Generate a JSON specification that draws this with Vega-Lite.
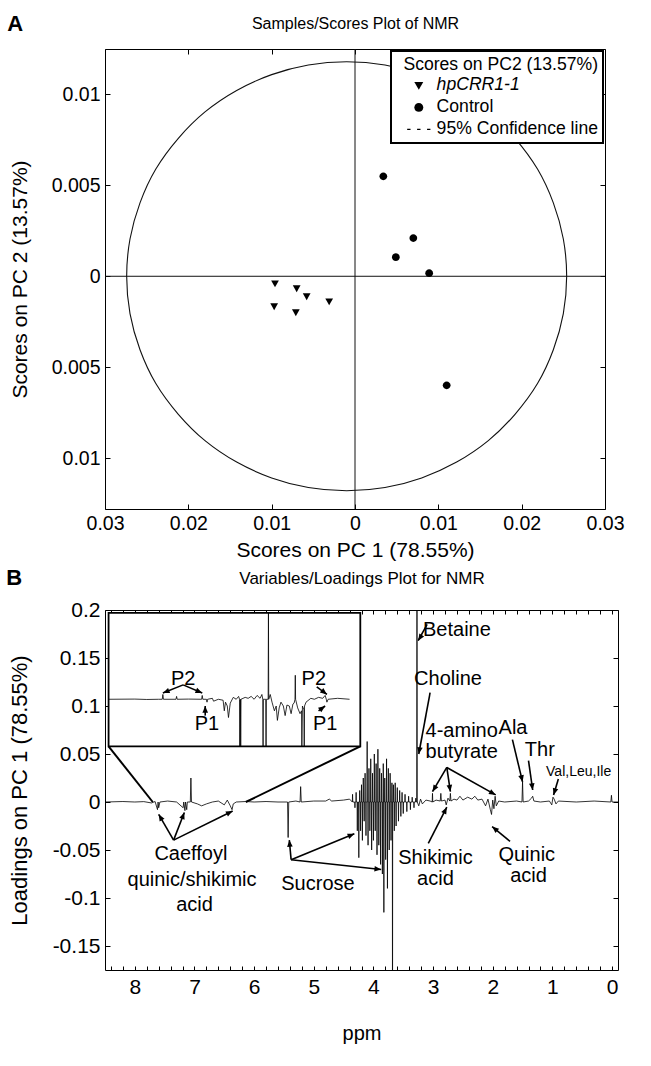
{
  "$schema": "https://vega.github.io/schema/vega-lite/v6.json",
  "background": "white",
  "padding": {"left": 5, "top": 12, "right": 0, "bottom": 0},
  "bounds": "flush",
  "spacing": 101,
  "resolve": {"legend": {"shape": "independent"}},
  "config": {
    "font": "Liberation Sans",
    "view": {"stroke": "black", "strokeWidth": 1},
    "axis": {
      "domain": false, "grid": false, "tickColor": "black", "tickSize": -5, "tickWidth": 1,
      "labelPadding": 10, "labelColor": "black", "labelFont": "Liberation Sans", "labelFontSize": 19.5,
      "labelFlush": false, "labelOverlap": false, "labelBound": false,
      "titleFont": "Liberation Sans", "titleFontSize": 21, "titleFontWeight": "normal", "titleColor": "black"
    },
    "legend": {"strokeWidth": 2},
    "text": {"font": "Liberation Sans", "color": "black"}
  },
  "datasets": {
    "zero": [{"v": 0}],
    "ellipse": [
      {"i": 0, "x": 0.0254, "y": 0}, {"i": 1, "x": 0.025, "y": 0.00205}, {"i": 2, "x": 0.0238, "y": 0.00404},
      {"i": 3, "x": 0.0219, "y": 0.0059}, {"i": 4, "x": 0.0192, "y": 0.00759}, {"i": 5, "x": 0.016, "y": 0.00904},
      {"i": 6, "x": 0.0122, "y": 0.01022}, {"i": 7, "x": 0.008, "y": 0.01109}, {"i": 8, "x": 0.0036, "y": 0.01162},
      {"i": 9, "x": -0.001, "y": 0.0118}, {"i": 10, "x": -0.0056, "y": 0.01162}, {"i": 11, "x": -0.01, "y": 0.01109},
      {"i": 12, "x": -0.0142, "y": 0.01022}, {"i": 13, "x": -0.018, "y": 0.00904}, {"i": 14, "x": -0.0212, "y": 0.00759},
      {"i": 15, "x": -0.0239, "y": 0.0059}, {"i": 16, "x": -0.0258, "y": 0.00404}, {"i": 17, "x": -0.027, "y": 0.00205},
      {"i": 18, "x": -0.0274, "y": 0}, {"i": 19, "x": -0.027, "y": -0.00205}, {"i": 20, "x": -0.0258, "y": -0.00404},
      {"i": 21, "x": -0.0239, "y": -0.0059}, {"i": 22, "x": -0.0212, "y": -0.00759}, {"i": 23, "x": -0.018, "y": -0.00904},
      {"i": 24, "x": -0.0142, "y": -0.01022}, {"i": 25, "x": -0.01, "y": -0.01109}, {"i": 26, "x": -0.0056, "y": -0.01162},
      {"i": 27, "x": -0.001, "y": -0.0118}, {"i": 28, "x": 0.0036, "y": -0.01162}, {"i": 29, "x": 0.008, "y": -0.01109},
      {"i": 30, "x": 0.0122, "y": -0.01022}, {"i": 31, "x": 0.016, "y": -0.00904}, {"i": 32, "x": 0.0192, "y": -0.00759},
      {"i": 33, "x": 0.0219, "y": -0.0059}, {"i": 34, "x": 0.0238, "y": -0.00404}, {"i": 35, "x": 0.025, "y": -0.00205}
    ],
    "scores": [
      {"x": 0.0034, "y": 0.0055, "group": "Control"},
      {"x": 0.007, "y": 0.0021, "group": "Control"},
      {"x": 0.0049, "y": 0.00105, "group": "Control"},
      {"x": 0.0089, "y": 0.00017, "group": "Control"},
      {"x": 0.011, "y": -0.006, "group": "Control"},
      {"x": -0.0096, "y": -0.00039, "group": "hpCRR1-1"},
      {"x": -0.007, "y": -0.00066, "group": "hpCRR1-1"},
      {"x": -0.0058, "y": -0.0011, "group": "hpCRR1-1"},
      {"x": -0.0031, "y": -0.00138, "group": "hpCRR1-1"},
      {"x": -0.0097, "y": -0.00165, "group": "hpCRR1-1"},
      {"x": -0.0071, "y": -0.00198, "group": "hpCRR1-1"}
    ],
    "spectrum": [
      {"ppm": 8.5, "v": 0}, {"ppm": 8.2, "v": 0.0005}, {"ppm": 8.0, "v": 0}, {"ppm": 7.85, "v": 0.0004},
      {"ppm": 7.72, "v": -0.001}, {"ppm": 7.66, "v": 0.0005}, {"ppm": 7.62, "v": -0.008}, {"ppm": 7.61, "v": 0},
      {"ppm": 7.6, "v": -0.006}, {"ppm": 7.58, "v": 0}, {"ppm": 7.45, "v": 0.001}, {"ppm": 7.3, "v": 0},
      {"ppm": 7.19, "v": -0.006}, {"ppm": 7.18, "v": 0}, {"ppm": 7.16, "v": -0.009}, {"ppm": 7.15, "v": 0},
      {"ppm": 7.13, "v": -0.008}, {"ppm": 7.12, "v": 0}, {"ppm": 7.07, "v": 0}, {"ppm": 7.06, "v": 0.025},
      {"ppm": 7.05, "v": 0}, {"ppm": 6.95, "v": -0.002}, {"ppm": 6.88, "v": -0.004}, {"ppm": 6.8, "v": -0.002},
      {"ppm": 6.7, "v": 0}, {"ppm": 6.6, "v": 0.001}, {"ppm": 6.5, "v": -0.003}, {"ppm": 6.45, "v": 0.002},
      {"ppm": 6.4, "v": -0.004}, {"ppm": 6.37, "v": -0.008}, {"ppm": 6.35, "v": -0.002}, {"ppm": 6.3, "v": 0},
      {"ppm": 6.14, "v": 0.0005}, {"ppm": 6.0, "v": 0}, {"ppm": 5.8, "v": 0.0005}, {"ppm": 5.6, "v": 0},
      {"ppm": 5.44, "v": 0}, {"ppm": 5.43, "v": -0.037}, {"ppm": 5.42, "v": 0}, {"ppm": 5.3, "v": 0.001},
      {"ppm": 5.23, "v": 0}, {"ppm": 5.22, "v": 0.016}, {"ppm": 5.21, "v": 0}, {"ppm": 5.0, "v": 0.001},
      {"ppm": 4.8, "v": 0.001}, {"ppm": 4.74, "v": 0.003}, {"ppm": 4.7, "v": 0.001}, {"ppm": 4.5, "v": 0.002},
      {"ppm": 4.4, "v": 0.003},
      {"ppm": 4.354, "v": 0}, {"ppm": 4.35, "v": 0.008}, {"ppm": 4.346, "v": 0},
      {"ppm": 4.314, "v": 0}, {"ppm": 4.31, "v": -0.006}, {"ppm": 4.306, "v": 0},
      {"ppm": 4.294, "v": 0}, {"ppm": 4.29, "v": 0.01}, {"ppm": 4.286, "v": 0},
      {"ppm": 4.274, "v": 0}, {"ppm": 4.27, "v": -0.03}, {"ppm": 4.266, "v": 0},
      {"ppm": 4.249, "v": 0}, {"ppm": 4.245, "v": -0.058}, {"ppm": 4.241, "v": 0},
      {"ppm": 4.234, "v": 0}, {"ppm": 4.23, "v": 0.012}, {"ppm": 4.226, "v": 0},
      {"ppm": 4.219, "v": 0}, {"ppm": 4.215, "v": -0.03}, {"ppm": 4.211, "v": 0},
      {"ppm": 4.204, "v": 0}, {"ppm": 4.2, "v": 0.018}, {"ppm": 4.196, "v": 0},
      {"ppm": 4.189, "v": 0}, {"ppm": 4.185, "v": -0.04}, {"ppm": 4.181, "v": 0},
      {"ppm": 4.174, "v": 0}, {"ppm": 4.17, "v": 0.025}, {"ppm": 4.166, "v": 0},
      {"ppm": 4.159, "v": 0}, {"ppm": 4.155, "v": -0.02}, {"ppm": 4.151, "v": 0},
      {"ppm": 4.144, "v": 0}, {"ppm": 4.14, "v": 0.03}, {"ppm": 4.136, "v": 0},
      {"ppm": 4.129, "v": 0}, {"ppm": 4.125, "v": -0.035}, {"ppm": 4.121, "v": 0},
      {"ppm": 4.109, "v": 0}, {"ppm": 4.105, "v": 0.063}, {"ppm": 4.101, "v": 0},
      {"ppm": 4.094, "v": 0}, {"ppm": 4.09, "v": -0.045}, {"ppm": 4.086, "v": 0},
      {"ppm": 4.079, "v": 0}, {"ppm": 4.075, "v": 0.035}, {"ppm": 4.071, "v": 0},
      {"ppm": 4.064, "v": 0}, {"ppm": 4.06, "v": -0.03}, {"ppm": 4.056, "v": 0},
      {"ppm": 4.049, "v": 0}, {"ppm": 4.045, "v": 0.045}, {"ppm": 4.041, "v": 0},
      {"ppm": 4.034, "v": 0}, {"ppm": 4.03, "v": -0.05}, {"ppm": 4.026, "v": 0},
      {"ppm": 4.019, "v": 0}, {"ppm": 4.015, "v": 0.03}, {"ppm": 4.011, "v": 0},
      {"ppm": 4.004, "v": 0}, {"ppm": 4.0, "v": -0.04}, {"ppm": 3.996, "v": 0},
      {"ppm": 3.989, "v": 0}, {"ppm": 3.985, "v": 0.05}, {"ppm": 3.981, "v": 0},
      {"ppm": 3.974, "v": 0}, {"ppm": 3.97, "v": -0.03}, {"ppm": 3.966, "v": 0},
      {"ppm": 3.959, "v": 0}, {"ppm": 3.955, "v": 0.04}, {"ppm": 3.951, "v": 0},
      {"ppm": 3.944, "v": 0}, {"ppm": 3.94, "v": -0.055}, {"ppm": 3.936, "v": 0},
      {"ppm": 3.929, "v": 0}, {"ppm": 3.925, "v": 0.055}, {"ppm": 3.921, "v": 0},
      {"ppm": 3.914, "v": 0}, {"ppm": 3.91, "v": -0.045}, {"ppm": 3.906, "v": 0},
      {"ppm": 3.899, "v": 0}, {"ppm": 3.895, "v": 0.035}, {"ppm": 3.891, "v": 0},
      {"ppm": 3.884, "v": 0}, {"ppm": 3.88, "v": -0.065}, {"ppm": 3.876, "v": 0},
      {"ppm": 3.869, "v": 0}, {"ppm": 3.865, "v": 0.03}, {"ppm": 3.861, "v": 0},
      {"ppm": 3.854, "v": 0}, {"ppm": 3.85, "v": -0.075}, {"ppm": 3.846, "v": 0},
      {"ppm": 3.839, "v": 0}, {"ppm": 3.835, "v": 0.04}, {"ppm": 3.831, "v": 0},
      {"ppm": 3.829, "v": 0}, {"ppm": 3.825, "v": -0.115}, {"ppm": 3.821, "v": 0},
      {"ppm": 3.814, "v": 0}, {"ppm": 3.81, "v": 0.025}, {"ppm": 3.806, "v": 0},
      {"ppm": 3.799, "v": 0}, {"ppm": 3.795, "v": -0.06}, {"ppm": 3.791, "v": 0},
      {"ppm": 3.784, "v": 0}, {"ppm": 3.78, "v": 0.045}, {"ppm": 3.776, "v": 0},
      {"ppm": 3.769, "v": 0}, {"ppm": 3.765, "v": -0.09}, {"ppm": 3.761, "v": 0},
      {"ppm": 3.754, "v": 0}, {"ppm": 3.75, "v": 0.035}, {"ppm": 3.746, "v": 0},
      {"ppm": 3.739, "v": 0}, {"ppm": 3.735, "v": -0.05}, {"ppm": 3.731, "v": 0},
      {"ppm": 3.724, "v": 0}, {"ppm": 3.72, "v": 0.03}, {"ppm": 3.716, "v": 0},
      {"ppm": 3.709, "v": 0}, {"ppm": 3.705, "v": -0.04}, {"ppm": 3.701, "v": 0},
      {"ppm": 3.694, "v": 0}, {"ppm": 3.69, "v": 0.02}, {"ppm": 3.686, "v": 0},
      {"ppm": 3.683, "v": 0}, {"ppm": 3.68, "v": -0.25}, {"ppm": 3.677, "v": 0},
      {"ppm": 3.669, "v": 0}, {"ppm": 3.665, "v": 0.018}, {"ppm": 3.661, "v": 0},
      {"ppm": 3.654, "v": 0}, {"ppm": 3.65, "v": -0.03}, {"ppm": 3.646, "v": 0},
      {"ppm": 3.639, "v": 0}, {"ppm": 3.635, "v": 0.02}, {"ppm": 3.631, "v": 0},
      {"ppm": 3.624, "v": 0}, {"ppm": 3.62, "v": -0.025}, {"ppm": 3.616, "v": 0},
      {"ppm": 3.604, "v": 0}, {"ppm": 3.6, "v": 0.015}, {"ppm": 3.596, "v": 0},
      {"ppm": 3.584, "v": 0}, {"ppm": 3.58, "v": -0.02}, {"ppm": 3.576, "v": 0},
      {"ppm": 3.564, "v": 0}, {"ppm": 3.56, "v": 0.012}, {"ppm": 3.556, "v": 0},
      {"ppm": 3.544, "v": 0}, {"ppm": 3.54, "v": -0.015}, {"ppm": 3.536, "v": 0},
      {"ppm": 3.524, "v": 0}, {"ppm": 3.52, "v": 0.01}, {"ppm": 3.516, "v": 0},
      {"ppm": 3.504, "v": 0}, {"ppm": 3.5, "v": -0.012}, {"ppm": 3.496, "v": 0},
      {"ppm": 3.474, "v": 0}, {"ppm": 3.47, "v": 0.008}, {"ppm": 3.466, "v": 0},
      {"ppm": 3.444, "v": 0}, {"ppm": 3.44, "v": -0.01}, {"ppm": 3.436, "v": 0},
      {"ppm": 3.414, "v": 0}, {"ppm": 3.41, "v": 0.006}, {"ppm": 3.406, "v": 0},
      {"ppm": 3.384, "v": 0}, {"ppm": 3.38, "v": -0.008}, {"ppm": 3.376, "v": 0},
      {"ppm": 3.354, "v": 0}, {"ppm": 3.35, "v": 0.005}, {"ppm": 3.346, "v": 0},
      {"ppm": 3.324, "v": 0}, {"ppm": 3.32, "v": -0.006}, {"ppm": 3.316, "v": 0},
      {"ppm": 3.294, "v": 0}, {"ppm": 3.29, "v": 0.004}, {"ppm": 3.286, "v": 0},
      {"ppm": 3.275, "v": 0}, {"ppm": 3.27, "v": 0.25}, {"ppm": 3.265, "v": 0},
      {"ppm": 3.24, "v": -0.004}, {"ppm": 3.21, "v": 0.003}, {"ppm": 3.18, "v": -0.002},
      {"ppm": 3.12, "v": 0.002}, {"ppm": 3.05, "v": 0.001}, {"ppm": 3.015, "v": 0}, {"ppm": 3.01, "v": 0.009},
      {"ppm": 3.005, "v": 0}, {"ppm": 2.95, "v": 0.002}, {"ppm": 2.88, "v": 0.001}, {"ppm": 2.87, "v": 0.009},
      {"ppm": 2.86, "v": 0.001}, {"ppm": 2.8, "v": 0.002}, {"ppm": 2.78, "v": -0.003}, {"ppm": 2.75, "v": 0.004},
      {"ppm": 2.72, "v": 0.001}, {"ppm": 2.71, "v": 0.009}, {"ppm": 2.7, "v": 0.001}, {"ppm": 2.65, "v": 0.003},
      {"ppm": 2.6, "v": 0.002}, {"ppm": 2.55, "v": 0.006}, {"ppm": 2.5, "v": 0.002}, {"ppm": 2.42, "v": 0.005},
      {"ppm": 2.35, "v": 0.003}, {"ppm": 2.3, "v": 0.006}, {"ppm": 2.25, "v": 0.002}, {"ppm": 2.18, "v": 0.003},
      {"ppm": 2.12, "v": -0.004}, {"ppm": 2.08, "v": 0.003}, {"ppm": 2.04, "v": -0.008}, {"ppm": 2.02, "v": -0.013},
      {"ppm": 2.0, "v": 0.002}, {"ppm": 1.98, "v": -0.007}, {"ppm": 1.96, "v": 0.006}, {"ppm": 1.94, "v": -0.004},
      {"ppm": 1.9, "v": 0.001}, {"ppm": 1.8, "v": 0}, {"ppm": 1.6, "v": 0.001}, {"ppm": 1.51, "v": 0},
      {"ppm": 1.5, "v": 0.021}, {"ppm": 1.49, "v": 0}, {"ppm": 1.4, "v": 0.001}, {"ppm": 1.35, "v": 0.004},
      {"ppm": 1.33, "v": 0.006}, {"ppm": 1.31, "v": 0.001}, {"ppm": 1.2, "v": 0}, {"ppm": 1.05, "v": 0.001},
      {"ppm": 1.01, "v": -0.003}, {"ppm": 0.99, "v": 0.005}, {"ppm": 0.97, "v": 0.003}, {"ppm": 0.94, "v": -0.002},
      {"ppm": 0.9, "v": 0.001}, {"ppm": 0.6, "v": 0}, {"ppm": 0.3, "v": 0.001}, {"ppm": 0.02, "v": 0},
      {"ppm": 0.01, "v": 0.007}, {"ppm": 0.0, "v": 0}, {"ppm": -0.1, "v": 0}
    ],
    "inset": [
      {"ppm": 8.44, "v": 0.107}, {"ppm": 8.0, "v": 0.1072}, {"ppm": 7.8, "v": 0.1068}, {"ppm": 7.6, "v": 0.107},
      {"ppm": 7.54, "v": 0.107}, {"ppm": 7.53, "v": 0.112}, {"ppm": 7.52, "v": 0.107}, {"ppm": 7.31, "v": 0.107},
      {"ppm": 7.3, "v": 0.11}, {"ppm": 7.29, "v": 0.107}, {"ppm": 7.1, "v": 0.1072}, {"ppm": 6.88, "v": 0.107},
      {"ppm": 6.87, "v": 0.111}, {"ppm": 6.86, "v": 0.107}, {"ppm": 6.8, "v": 0.107}, {"ppm": 6.79, "v": 0.104},
      {"ppm": 6.78, "v": 0.107}, {"ppm": 6.7, "v": 0.108}, {"ppm": 6.68, "v": 0.105}, {"ppm": 6.6, "v": 0.107},
      {"ppm": 6.52, "v": 0.106}, {"ppm": 6.5, "v": 0.095}, {"ppm": 6.48, "v": 0.104}, {"ppm": 6.45, "v": 0.1},
      {"ppm": 6.43, "v": 0.088}, {"ppm": 6.41, "v": 0.098}, {"ppm": 6.4, "v": 0.103}, {"ppm": 6.35, "v": 0.109},
      {"ppm": 6.3, "v": 0.107}, {"ppm": 6.26, "v": 0.11}, {"ppm": 6.245, "v": 0.107}, {"ppm": 6.24, "v": 0.058},
      {"ppm": 6.23, "v": 0.107}, {"ppm": 6.225, "v": 0.058}, {"ppm": 6.22, "v": 0.107}, {"ppm": 6.15, "v": 0.109},
      {"ppm": 6.1, "v": 0.108}, {"ppm": 6.05, "v": 0.11}, {"ppm": 6.0, "v": 0.107}, {"ppm": 5.95, "v": 0.111},
      {"ppm": 5.9, "v": 0.108}, {"ppm": 5.87, "v": 0.112}, {"ppm": 5.855, "v": 0.107}, {"ppm": 5.85, "v": 0.058},
      {"ppm": 5.845, "v": 0.107}, {"ppm": 5.805, "v": 0.107}, {"ppm": 5.8, "v": 0.058}, {"ppm": 5.795, "v": 0.107},
      {"ppm": 5.765, "v": 0.107}, {"ppm": 5.76, "v": 0.197}, {"ppm": 5.755, "v": 0.107}, {"ppm": 5.73, "v": 0.112},
      {"ppm": 5.7, "v": 0.104}, {"ppm": 5.66, "v": 0.095}, {"ppm": 5.63, "v": 0.1}, {"ppm": 5.61, "v": 0.085},
      {"ppm": 5.58, "v": 0.098}, {"ppm": 5.55, "v": 0.104}, {"ppm": 5.51, "v": 0.1}, {"ppm": 5.48, "v": 0.09},
      {"ppm": 5.45, "v": 0.101}, {"ppm": 5.41, "v": 0.1}, {"ppm": 5.38, "v": 0.092}, {"ppm": 5.35, "v": 0.102},
      {"ppm": 5.33, "v": 0.103}, {"ppm": 5.315, "v": 0.107}, {"ppm": 5.31, "v": 0.132}, {"ppm": 5.305, "v": 0.107},
      {"ppm": 5.27, "v": 0.098}, {"ppm": 5.23, "v": 0.092}, {"ppm": 5.205, "v": 0.095}, {"ppm": 5.2, "v": 0.058},
      {"ppm": 5.19, "v": 0.1}, {"ppm": 5.165, "v": 0.096}, {"ppm": 5.16, "v": 0.058}, {"ppm": 5.155, "v": 0.1},
      {"ppm": 5.13, "v": 0.104}, {"ppm": 5.05, "v": 0.108}, {"ppm": 4.99, "v": 0.107}, {"ppm": 4.92, "v": 0.109},
      {"ppm": 4.85, "v": 0.108}, {"ppm": 4.81, "v": 0.111}, {"ppm": 4.79, "v": 0.107}, {"ppm": 4.78, "v": 0.104},
      {"ppm": 4.76, "v": 0.107}, {"ppm": 4.6, "v": 0.108}, {"ppm": 4.4, "v": 0.107}
    ],
    "insetBox": [{"x": 8.44, "x2": 4.22, "y": 0.058, "y2": 0.197}],
    "connectors": [
      {"x": 8.44, "y": 0.058, "x2": 7.7, "y2": 0},
      {"x": 4.22, "y": 0.058, "x2": 6.14, "y2": 0}
    ],
    "arrows": [
      {"x": 3.1, "y": 0.185, "x2": 3.25, "y2": 0.168, "angle": 212},
      {"x": 3.05, "y": 0.114, "x2": 3.24, "y2": 0.05, "angle": 190},
      {"x": 2.77, "y": 0.036, "x2": 3.01, "y2": 0.0108, "angle": 211},
      {"x": 2.77, "y": 0.036, "x2": 2.71, "y2": 0.0108, "angle": 171},
      {"x": 2.77, "y": 0.036, "x2": 1.95, "y2": 0.0074, "angle": 119},
      {"x": 1.67, "y": 0.065, "x2": 1.5, "y2": 0.0209, "angle": 167},
      {"x": 1.4, "y": 0.043, "x2": 1.33, "y2": 0.0125, "angle": 172},
      {"x": 0.9, "y": 0.024, "x2": 0.98, "y2": 0.0074, "angle": 197},
      {"x": 7.35, "y": -0.0397, "x2": 7.6, "y2": -0.0128, "angle": -30},
      {"x": 7.35, "y": -0.0397, "x2": 7.17, "y2": -0.011, "angle": 21},
      {"x": 7.35, "y": -0.0397, "x2": 6.36, "y2": -0.0094, "angle": 63},
      {"x": 5.38, "y": -0.0601, "x2": 5.41, "y2": -0.0397, "angle": -5},
      {"x": 5.38, "y": -0.0601, "x2": 4.32, "y2": -0.033, "angle": 67},
      {"x": 5.38, "y": -0.0601, "x2": 3.87, "y2": -0.0703, "angle": 96},
      {"x": 3.08, "y": -0.043, "x2": 2.77, "y2": -0.0054, "angle": 27},
      {"x": 1.71, "y": -0.041, "x2": 2.01, "y2": -0.0256, "angle": -50},
      {"x": 7.19, "y": 0.122, "x2": 7.53, "y2": 0.1135, "angle": 248},
      {"x": 7.19, "y": 0.122, "x2": 6.87, "y2": 0.1135, "angle": 113},
      {"x": 6.82, "y": 0.09, "x2": 6.82, "y2": 0.1, "angle": 0},
      {"x": 4.95, "y": 0.12, "x2": 4.78, "y2": 0.112, "angle": 128},
      {"x": 4.92, "y": 0.095, "x2": 4.81, "y2": 0.1, "angle": 54}
    ],
    "labels": [
      {"x": 2.6, "y": 0.179, "text": "Betaine"},
      {"x": 2.75, "y": 0.128, "text": "Choline"},
      {"x": 2.52, "y": 0.074, "text": "4-amino"},
      {"x": 2.52, "y": 0.052, "text": "butyrate"},
      {"x": 1.66, "y": 0.077, "text": "Ala"},
      {"x": 1.21, "y": 0.054, "text": "Thr"},
      {"x": 7.06, "y": -0.054, "text": "Caeffoyl"},
      {"x": 7.04, "y": -0.0814, "text": "quinic/shikimic"},
      {"x": 7.0, "y": -0.1068, "text": "acid"},
      {"x": 4.93, "y": -0.0858, "text": "Sucrose"},
      {"x": 2.96, "y": -0.058, "text": "Shikimic"},
      {"x": 2.96, "y": -0.08, "text": "acid"},
      {"x": 1.43, "y": -0.055, "text": "Quinic"},
      {"x": 1.4, "y": -0.077, "text": "acid"},
      {"x": 7.19, "y": 0.1286, "text": "P2"},
      {"x": 6.79, "y": 0.0815, "text": "P1"},
      {"x": 5.0, "y": 0.1286, "text": "P2"},
      {"x": 4.81, "y": 0.0815, "text": "P1"}
    ],
    "labelsSmall": [
      {"x": 0.56, "y": 0.0317, "text": "Val,Leu,Ile"}
    ]
  },
  "vconcat": [
    {
      "width": 500,
      "height": 460,
      "title": {"text": "A", "anchor": "start", "frame": "bounds", "fontSize": 22, "fontWeight": "bold", "font": "Liberation Sans", "color": "black", "offset": 0, "dy": 20, "dx": -2},
      "layer": [
        {
          "data": {"name": "ellipse"},
          "mark": {"type": "line", "interpolate": "cardinal-closed", "stroke": "#111", "strokeWidth": 1.1},
          "encoding": {
            "x": {"field": "x", "type": "quantitative", "scale": {"domain": [-0.03, 0.03], "nice": false, "zero": false}, "axis": null},
            "y": {"field": "y", "type": "quantitative", "scale": {"domain": [-0.0128, 0.0125], "nice": false, "zero": false}, "axis": null},
            "order": {"field": "i", "type": "quantitative"}
          }
        },
        {
          "data": {"name": "zero"},
          "mark": {"type": "rule", "stroke": "#111", "strokeWidth": 1},
          "encoding": {
            "x": {"field": "v", "type": "quantitative", "scale": {"domain": [-0.03, 0.03], "nice": false, "zero": false},
              "axis": {"orient": "top", "values": [-0.03, -0.02, -0.01, 0, 0.01, 0.02, 0.03], "labels": false, "title": "Samples/Scores Plot of NMR", "titleFontSize": 16, "titlePadding": 17}}
          }
        },
        {
          "data": {"name": "zero"},
          "mark": {"type": "rule", "stroke": "#111", "strokeWidth": 1},
          "encoding": {
            "y": {"field": "v", "type": "quantitative", "scale": {"domain": [-0.0128, 0.0125], "nice": false, "zero": false},
              "axis": {"orient": "right", "values": [-0.01, -0.005, 0, 0.005, 0.01], "labels": false, "title": null}}
          }
        },
        {
          "data": {"name": "scores"},
          "mark": {"type": "point", "filled": true, "color": "black", "opacity": 1, "size": 60},
          "encoding": {
            "x": {"field": "x", "type": "quantitative", "scale": {"domain": [-0.03, 0.03], "nice": false, "zero": false},
              "axis": {"orient": "bottom", "values": [-0.03, -0.02, -0.01, 0, 0.01, 0.02, 0.03], "labelExpr": "format(abs(datum.value), '~g')", "title": "Scores on PC 1 (78.55%)", "titlePadding": 7}},
            "y": {"field": "y", "type": "quantitative", "scale": {"domain": [-0.0128, 0.0125], "nice": false, "zero": false},
              "axis": {"orient": "left", "values": [-0.01, -0.005, 0, 0.005, 0.01], "labelExpr": "format(abs(datum.value), '~g')", "title": "Scores on PC 2 (13.57%)", "titlePadding": 21}},
            "shape": {
              "field": "group", "type": "nominal",
              "scale": {"domain": ["hpCRR1-1", "Control", "95% Confidence line"], "range": [
                "M-2.6,0M2.6,0M-1,-0.75L1,-0.75L0,1Z",
                "M-2.6,0M2.6,0M1,0A1,1,0,1,1,-1,0A1,1,0,1,1,1,0Z",
                "M-2.6,-0.15H-1.85V0.15H-2.6Z M-0.38,-0.15H0.38V0.15H-0.38Z M1.85,-0.15H2.6V0.15H1.85Z"
              ]},
              "legend": {
                "title": "Scores on PC2 (13.57%)", "orient": "top-right", "offset": 2,
                "fillColor": "white", "strokeColor": "black", "padding": 5,
                "titleFontSize": 17.6, "titleFontWeight": "normal", "titleColor": "black", "titleFont": "Liberation Sans", "titlePadding": 3, "titleLimit": 500, "titleAnchor": "end",
                "labelFontSize": 17.6, "labelColor": "black", "labelFont": "Liberation Sans", "labelLimit": 500,
                "labelFontStyle": {"expr": "datum.value === 'hpCRR1-1' ? 'italic' : 'normal'"},
                "symbolSize": 80, "rowPadding": 3, "labelOffset": 9, "symbolOffset": 14,
                "encode": {
                  "legend": {"strokeWidth": {"value": 2}}
                }
              }
            }
          }
        }
      ]
    },
    {
      "width": 513,
      "height": 360,
      "title": {"text": "B", "anchor": "start", "frame": "bounds", "fontSize": 22, "fontWeight": "bold", "font": "Liberation Sans", "color": "black", "offset": 0, "dy": 20, "dx": -2},
      "layer": [
        {
          "data": {"name": "spectrum"},
          "mark": {"type": "line", "clip": true, "stroke": "black", "strokeWidth": 0.8},
          "encoding": {
            "x": {"field": "ppm", "type": "quantitative", "scale": {"domain": [-0.1, 8.5], "reverse": true, "nice": false, "zero": false},
              "axis": {"orient": "bottom", "tickSize": -4, "labelFontSize": 21, "values": [8.4, 8.2, 8, 7.8, 7.6, 7.4, 7.2, 7, 6.8, 6.6, 6.4, 6.2, 6, 5.8, 5.6, 5.4, 5.2, 5, 4.8, 4.6, 4.4, 4.2, 4, 3.8, 3.6, 3.4, 3.2, 3, 2.8, 2.6, 2.4, 2.2, 2, 1.8, 1.6, 1.4, 1.2, 1, 0.8, 0.6, 0.4, 0.2, 0],
                "labelExpr": "datum.value == round(datum.value) ? format(datum.value, 'd') : ''", "title": "ppm", "titleFontSize": 20, "titlePadding": 26}},
            "y": {"field": "v", "type": "quantitative", "scale": {"domain": [-0.175, 0.2], "nice": false, "zero": false},
              "axis": {"orient": "left", "labelFontSize": 21, "values": [-0.15, -0.1, -0.05, 0, 0.05, 0.1, 0.15, 0.2], "labelExpr": "replace(format(datum.value, '~g'), '\u2212', '-')", "title": "Loadings on PC 1 (78.55%)", "titleFontSize": 22, "titlePadding": 21}}
          }
        },
        {
          "data": {"name": "connectors"},
          "mark": {"type": "rule", "stroke": "black", "strokeWidth": 2},
          "encoding": {
            "x": {"field": "x", "type": "quantitative", "scale": {"domain": [-0.1, 8.5], "reverse": true, "nice": false, "zero": false},
              "axis": {"orient": "top", "tickSize": -4, "values": [8.4, 8.2, 8, 7.8, 7.6, 7.4, 7.2, 7, 6.8, 6.6, 6.4, 6.2, 6, 5.8, 5.6, 5.4, 5.2, 5, 4.8, 4.6, 4.4, 4.2, 4, 3.8, 3.6, 3.4, 3.2, 3, 2.8, 2.6, 2.4, 2.2, 2, 1.8, 1.6, 1.4, 1.2, 1, 0.8, 0.6, 0.4, 0.2, 0],
                "labels": false, "title": "Variables/Loadings Plot for NMR", "titleFontSize": 17, "titlePadding": 22}},
            "y": {"field": "y", "type": "quantitative", "scale": {"domain": [-0.175, 0.2], "nice": false, "zero": false},
              "axis": {"orient": "right", "values": [-0.15, -0.1, -0.05, 0, 0.05, 0.1, 0.15, 0.2], "labels": false, "title": null}},
            "x2": {"field": "x2"},
            "y2": {"field": "y2"}
          }
        },
        {
          "data": {"name": "insetBox"},
          "mark": {"type": "rect", "fill": "white", "stroke": "black", "strokeWidth": 1.8},
          "encoding": {
            "x": {"field": "x", "type": "quantitative", "scale": {"domain": [-0.1, 8.5], "reverse": true, "nice": false, "zero": false}, "axis": null},
            "x2": {"field": "x2"},
            "y": {"field": "y", "type": "quantitative", "scale": {"domain": [-0.175, 0.2], "nice": false, "zero": false}, "axis": null},
            "y2": {"field": "y2"}
          }
        },
        {
          "data": {"name": "inset"},
          "mark": {"type": "line", "clip": true, "stroke": "black", "strokeWidth": 0.8},
          "encoding": {
            "x": {"field": "ppm", "type": "quantitative", "scale": {"domain": [-0.1, 8.5], "reverse": true, "nice": false, "zero": false}, "axis": null},
            "y": {"field": "v", "type": "quantitative", "scale": {"domain": [-0.175, 0.2], "nice": false, "zero": false}, "axis": null}
          }
        },
        {
          "data": {"name": "arrows"},
          "mark": {"type": "rule", "stroke": "black", "strokeWidth": 1.6},
          "encoding": {
            "x": {"field": "x", "type": "quantitative", "scale": {"domain": [-0.1, 8.5], "reverse": true, "nice": false, "zero": false}, "axis": null},
            "y": {"field": "y", "type": "quantitative", "scale": {"domain": [-0.175, 0.2], "nice": false, "zero": false}, "axis": null},
            "x2": {"field": "x2"},
            "y2": {"field": "y2"}
          }
        },
        {
          "data": {"name": "arrows"},
          "mark": {"type": "point", "filled": true, "color": "black", "opacity": 1, "size": 56, "shape": "M0,0L-0.75,1.8L0.75,1.8Z"},
          "encoding": {
            "x": {"field": "x2", "type": "quantitative", "scale": {"domain": [-0.1, 8.5], "reverse": true, "nice": false, "zero": false}, "axis": null},
            "y": {"field": "y2", "type": "quantitative", "scale": {"domain": [-0.175, 0.2], "nice": false, "zero": false}, "axis": null},
            "angle": {"field": "angle", "type": "quantitative", "scale": null}
          }
        },
        {
          "data": {"name": "labels"},
          "mark": {"type": "text", "fontSize": 20, "align": "center", "baseline": "middle", "color": "black"},
          "encoding": {
            "x": {"field": "x", "type": "quantitative", "scale": {"domain": [-0.1, 8.5], "reverse": true, "nice": false, "zero": false}, "axis": null},
            "y": {"field": "y", "type": "quantitative", "scale": {"domain": [-0.175, 0.2], "nice": false, "zero": false}, "axis": null},
            "text": {"field": "text", "type": "nominal"}
          }
        },
        {
          "data": {"name": "labelsSmall"},
          "mark": {"type": "text", "fontSize": 14, "align": "center", "baseline": "middle", "color": "black"},
          "encoding": {
            "x": {"field": "x", "type": "quantitative", "scale": {"domain": [-0.1, 8.5], "reverse": true, "nice": false, "zero": false}, "axis": null},
            "y": {"field": "y", "type": "quantitative", "scale": {"domain": [-0.175, 0.2], "nice": false, "zero": false}, "axis": null},
            "text": {"field": "text", "type": "nominal"}
          }
        }
      ]
    }
  ]
}
